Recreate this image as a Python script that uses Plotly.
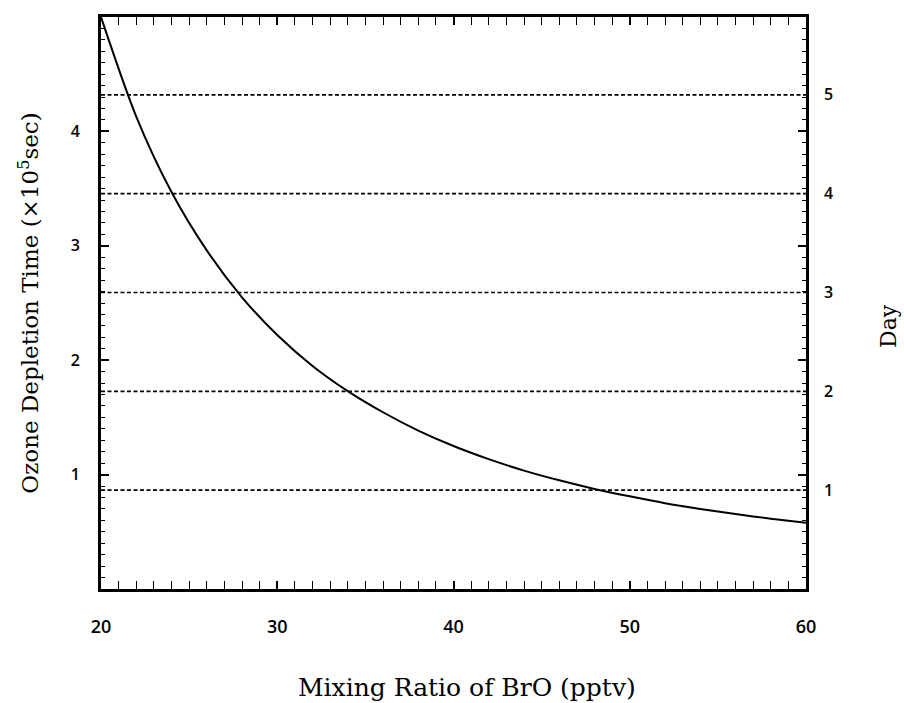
import plotly.graph_objects as go

# Data
bro_pptv = [20, 22, 24, 26, 28, 30, 32, 34, 36, 38, 40, 42, 44, 46, 48, 50, 52, 54, 56, 58, 60]
depletion_time = [5.0, 4.13, 3.47, 2.96, 2.55, 2.22, 1.95, 1.73, 1.545, 1.385, 1.25,
                  1.135, 1.035, 0.95, 0.875, 0.81, 0.75, 0.70, 0.655, 0.615, 0.58]
days = [1, 2, 3, 4, 5]
day_in_1e5_sec = 0.864
x_ticks = [20, 30, 40, 50, 60]
y_ticks = [1, 2, 3, 4]

fig = go.Figure()

fig.add_trace(go.Scatter(x=bro_pptv, y=depletion_time, mode="lines",
                         line=dict(color="black", width=2, shape="spline", smoothing=0.8),
                         showlegend=False, hoverinfo="skip"))

for d in days:
    yv = d * day_in_1e5_sec
    fig.add_trace(go.Scatter(x=[bro_pptv[0], bro_pptv[-1]], y=[yv, yv], mode="lines",
                             line=dict(color="black", width=1.7, dash="4px,2.5px"),
                             showlegend=False, hoverinfo="skip"))

# invisible trace for secondary (Day) axis
fig.add_trace(go.Scatter(x=[bro_pptv[0]], y=[0], yaxis="y2", mode="markers",
                         marker=dict(opacity=0), showlegend=False, hoverinfo="skip"))

serif = "DejaVu Serif"
tick_family = "Open Sans"

fig.update_layout(
    width=904, height=703,
    margin=dict(l=101, r=98, t=17, b=114),
    paper_bgcolor="white", plot_bgcolor="white",
    xaxis=dict(
        range=[20, 60], tickvals=x_ticks, ticktext=[str(v) for v in x_ticks],
        ticks="inside", ticklen=8, tickwidth=1.6, tickcolor="black",
        minor=dict(dtick=1, ticks="inside", ticklen=4, tickwidth=1.3, tickcolor="black"),
        showline=True, linewidth=2.8, linecolor="black", mirror="allticks",
        showgrid=False, zeroline=False,
        tickfont=dict(family=tick_family, size=18, color="black", weight=600),
        ticklabelstandoff=19,
    ),
    yaxis=dict(
        range=[0, 5], tickvals=y_ticks, ticktext=[str(v) for v in y_ticks],
        ticks="inside", ticklen=8, tickwidth=1.6, tickcolor="black",
        minor=dict(dtick=0.1, ticks="inside", ticklen=4, tickwidth=1.3, tickcolor="black"),
        showline=True, linewidth=2.8, linecolor="black", mirror="allticks",
        showgrid=False, zeroline=False,
        tickfont=dict(family=tick_family, size=16, color="black", weight=600),
        ticklabelstandoff=15,
        title=dict(text="Ozone Depletion Time (×10<sup>5</sup>sec)",
                   font=dict(family=serif, size=23, color="black"), standoff=26),
    ),
    yaxis2=dict(
        overlaying="y", side="right", range=[0, 5 / day_in_1e5_sec],
        tickvals=days, ticktext=[str(d) for d in days], ticks="",
        showline=False, showgrid=False, zeroline=False,
        tickfont=dict(family=tick_family, size=16, color="black", weight=600),
        ticklabelstandoff=17,
    ),
    annotations=[
        dict(text="Mixing Ratio of BrO (pptv)", xref="paper", yref="paper",
             x=0.519, y=0, yshift=-98, xanchor="center", yanchor="middle",
             showarrow=False, font=dict(family=serif, size=25, color="black")),
        dict(text="Day", xref="paper", yref="paper", x=1, xshift=83, y=0.46,
             xanchor="center", yanchor="middle", textangle=-90,
             showarrow=False, font=dict(family=serif, size=22, color="black")),
    ],
)

fig.write_html("out.html")
